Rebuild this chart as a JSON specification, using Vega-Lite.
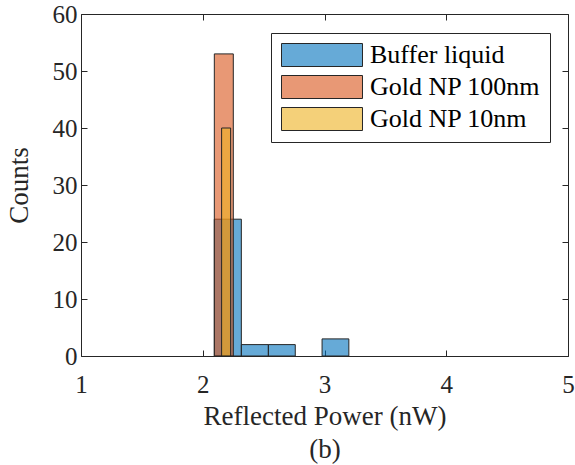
{
  "$schema": "https://vega.github.io/schema/vega-lite/v6.json",
  "width": 487,
  "height": 342,
  "autosize": {"type": "none"},
  "padding": {"left": 81, "top": 14, "right": 7, "bottom": 109},
  "background": "white",
  "config": {
    "view": {"stroke": "#262626", "strokeWidth": 1},
    "font": "Times New Roman, Liberation Serif, serif",
    "axis": {
      "domain": false,
      "grid": false,
      "tickColor": "#262626",
      "tickSize": -6,
      "tickWidth": 1,
      "labelFont": "Times New Roman, Liberation Serif, serif",
      "labelFontSize": 25,
      "labelColor": "#262626",
      "titleFont": "Times New Roman, Liberation Serif, serif",
      "titleFontSize": 27,
      "titleFontWeight": "normal",
      "titleColor": "#262626"
    }
  },
  "data": {
    "values": [
      {"series": "Buffer liquid", "x0": 2.095, "x1": 2.317, "count": 24},
      {"series": "Buffer liquid", "x0": 2.317, "x1": 2.539, "count": 2},
      {"series": "Buffer liquid", "x0": 2.539, "x1": 2.76, "count": 2},
      {"series": "Buffer liquid", "x0": 2.98, "x1": 3.2, "count": 3},
      {"series": "Gold NP 100nm", "x0": 2.095, "x1": 2.251, "count": 53},
      {"series": "Gold NP 10nm", "x0": 2.155, "x1": 2.229, "count": 40}
    ]
  },
  "layer": [
    {
      "mark": {"type": "bar", "fillOpacity": 0.6, "stroke": "#262626", "strokeWidth": 1, "strokeOpacity": 1},
      "encoding": {
        "x": {
          "field": "x0", "type": "quantitative",
          "scale": {"domain": [1, 5], "nice": false, "zero": false},
          "axis": {
            "values": [1, 2, 3, 4, 5],
            "labelPadding": 22,
            "labelFlush": false,
            "title": ["Reflected Power (nW)", "(b)"],
            "titleLineHeight": 33,
            "titlePadding": 6
          }
        },
        "x2": {"field": "x1"},
        "y": {
          "field": "count", "type": "quantitative", "stack": null,
          "scale": {"domain": [0, 60], "nice": false},
          "axis": {
            "values": [0, 10, 20, 30, 40, 50, 60],
            "labelPadding": 10,
            "labelFlush": false,
            "title": "Counts",
            "titlePadding": 19
          }
        },
        "y2": {"datum": 0},
        "color": {
          "field": "series", "type": "nominal",
          "scale": {
            "domain": ["Buffer liquid", "Gold NP 100nm", "Gold NP 10nm"],
            "range": ["#0072BD", "#D95319", "#EDB120"]
          },
          "legend": {
            "title": null,
            "orient": "none",
            "legendX": 190,
            "legendY": 19,
            "padding": 9,
            "strokeColor": "#262626",
            "fillColor": "white",
            "symbolType": "M-1,-1L6.043,-1L6.043,1L-1,1Z",
            "symbolSize": 529,
            "symbolStrokeColor": "#262626",
            "symbolStrokeWidth": 1,
            "labelOffset": 64,
            "labelFont": "Times New Roman, Liberation Serif, serif",
            "labelFontSize": 26,
            "labelColor": "black",
            "rowPadding": 4,
            "labelLimit": 300,
            "encode": {
              "symbols": {"update": {"fillOpacity": {"value": 0.6}, "strokeOpacity": {"value": 1}, "opacity": {"value": 1}}}
            }
          }
        }
      }
    },
    {
      "mark": {"type": "bar", "opacity": 0},
      "encoding": {
        "x": {
          "field": "x0", "type": "quantitative",
          "scale": {"domain": [1, 5], "nice": false, "zero": false},
          "axis": {"orient": "top", "values": [1, 2, 3, 4, 5], "labels": false, "title": null}
        },
        "x2": {"field": "x1"},
        "y": {
          "field": "count", "type": "quantitative", "stack": null,
          "scale": {"domain": [0, 60], "nice": false},
          "axis": {"orient": "right", "values": [0, 10, 20, 30, 40, 50, 60], "labels": false, "title": null}
        },
        "y2": {"datum": 0}
      }
    }
  ],
  "resolve": {"axis": {"x": "independent", "y": "independent"}}
}
